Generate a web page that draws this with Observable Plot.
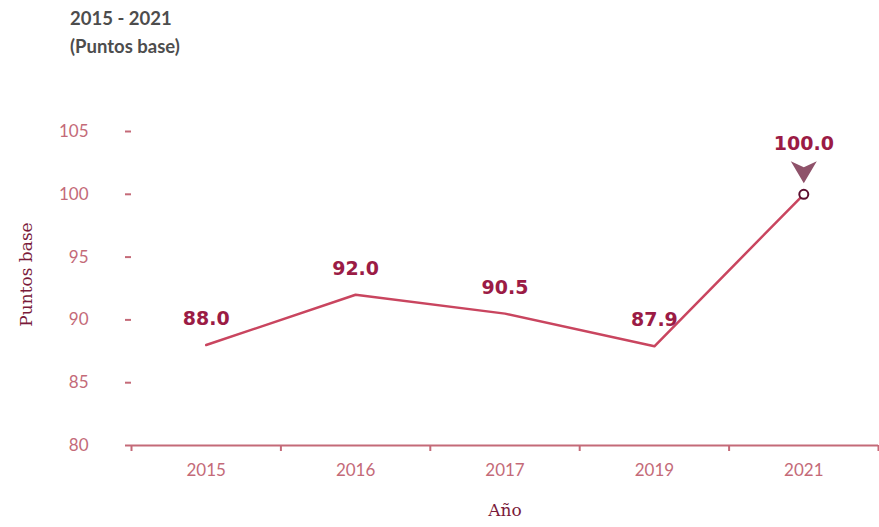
<!DOCTYPE html>
<html>
<head>
<meta charset="utf-8">
<script src="https://cdn.jsdelivr.net/npm/d3@7"></script>
<script src="https://cdn.jsdelivr.net/npm/@observablehq/plot@0.6"></script>
<style>
  html, body { margin: 0; padding: 0; background: #fff; }
  #title { height: 70px; box-sizing: border-box; padding: 4px 0 0 70px; font: 700 18.5px Lato, "Open Sans", sans-serif; color: #4d4d4d; line-height: 28px; }
  #chart svg { display: block; }
</style>
</head>
<body>
<div id="title"><div>2015 - 2021</div><div>(Puntos base)</div></div>
<div id="chart"></div>
<script>
const years = ["2015", "2016", "2017", "2019", "2021"];
const values = [88.0, 92.0, 90.5, 87.9, 100.0];
const yTicks = [80, 85, 90, 95, 100, 105];
const yLabel = "Puntos base";
const xLabel = "Año";

const data = years.map((y, i) => ({i, year: y, value: values[i]}));
const last = data.slice(-1);
const others = data.slice(0, -1);

const tickColor = "#c46a78";
const lineColor = "#c9455f";
const labelColor = "#9b1b45";
const titleColor = "#7a1a3a";

const arrowSymbol = {
  draw(context) {
    context.moveTo(-13, -10);
    context.lineTo(0, -4);
    context.lineTo(13, -10);
    context.lineTo(0, 12);
    context.closePath();
  }
};

const labelFont = "'DejaVu Sans', sans-serif";

const plot = Plot.plot({
  width: 879,
  height: 457,
  marginTop: 61,
  marginBottom: 82,
  marginLeft: 131,
  marginRight: 1,
  style: {fontFamily: "Lato, 'Open Sans', sans-serif", fontSize: "17px", background: "#fff"},
  x: {domain: [-0.5, years.length - 0.5]},
  y: {domain: [80, 105]},
  marks: [
    Plot.axisY({ticks: yTicks, tickSize: 6, tickPadding: 37, stroke: tickColor, strokeWidth: 2, color: tickColor, fontSize: 17,
      label: yLabel, labelAnchor: "center", labelArrow: "none", labelOffset: 112}),
    Plot.axisX({ticks: d3.range(-0.5, years.length, 1), tickSize: 6, tickFormat: () => "", stroke: tickColor, strokeWidth: 2, label: null}),
    Plot.axisX({ticks: d3.range(0, years.length), tickSize: 0, tickPadding: 18, tickFormat: (d) => years[d], color: tickColor, fontSize: 17,
      label: xLabel, labelAnchor: "center", labelArrow: "none", labelOffset: 70}),
    Plot.ruleY([80], {stroke: tickColor, strokeWidth: 2}),
    Plot.line(data, {x: "i", y: "value", stroke: lineColor, strokeWidth: 2.5}),
    Plot.dot(last, {x: "i", y: "value", r: 4.5, stroke: "#5c0f30", strokeWidth: 2, fill: "#fff"}),
    Plot.dot(last, {x: "i", y: "value", symbol: arrowSymbol, fill: "#8f526a", stroke: "none", dy: -23}),
    Plot.text(others, {x: "i", y: "value", text: (d) => d.value.toFixed(1), dy: -26, fill: labelColor, fontWeight: 700, fontSize: 19, fontFamily: labelFont}),
    Plot.text(last, {x: "i", y: "value", text: (d) => d.value.toFixed(1), dy: -50, fill: labelColor, fontWeight: 700, fontSize: 19, fontFamily: labelFont})
  ]
});

// style axis titles
const titles = d3.select(plot).selectAll("[aria-label$='axis label']");
titles.attr("fill", titleColor).style("font-family", "'DejaVu Serif', serif").style("font-size", "17px");
// nudge the y-axis title up to match the reference
d3.select(plot).select("[aria-label='y-axis label'] text").each(function () {
  const t = this.getAttribute("transform") || "";
  this.setAttribute("transform", "translate(0,-14) " + t);
});
document.getElementById("chart").appendChild(plot);
</script>
</body>
</html>
